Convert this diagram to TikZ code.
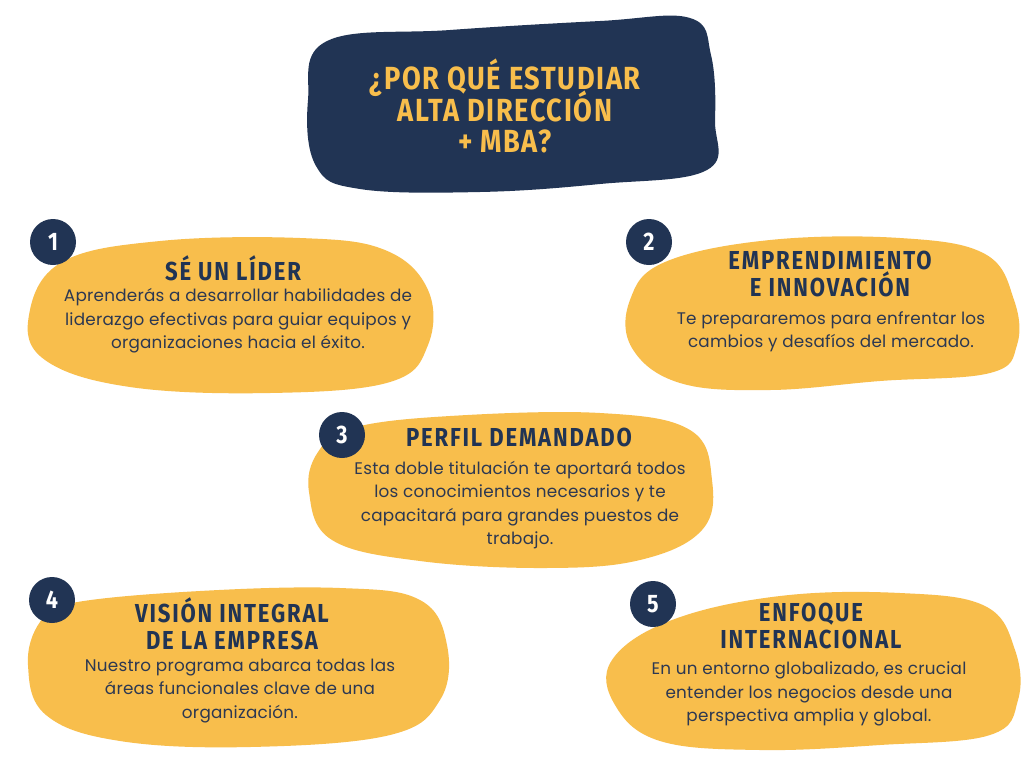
\documentclass[tikz,border=0pt]{standalone}
\usepackage{fontspec}
\setmainfont{Poppins}[LetterSpace=1.5]
\newfontfamily\headfont{Fira Sans}[FakeStretch=0.85,LetterSpace=7]
\newfontfamily\titlefont{Fira Sans}[FakeStretch=0.85,LetterSpace=5]
\newcommand\nolsk{\setlength{\lineskiplimit}{-100pt}}
\definecolor{navy}{HTML}{213454}
\definecolor{gold}{HTML}{F8BE4C}
\definecolor{bodytxt}{HTML}{2C3852}
\begin{document}
\begin{tikzpicture}[x=0.75pt,y=-0.75pt,
  blob/.style={fill=gold,draw=none},
  titleblob/.style={fill=navy,draw=none},
  numdot/.style={circle,fill=navy,minimum size=34.5pt,inner sep=0pt,text=white,font=\headfont\bfseries\fontsize{19}{19}\selectfont},
  headtxt/.style={text=navy,align=center,font=\headfont\bfseries\fontsize{19.5}{20}\selectfont\nolsk,inner sep=0pt},
  bodytext/.style={text=bodytxt,align=center,font=\fontsize{12.6}{17.6}\selectfont\nolsk,inner sep=0pt},
  titletxt/.style={text=gold,align=center,font=\titlefont\bfseries\fontsize{24}{23.6}\selectfont\nolsk,inner sep=0pt}]
\useasboundingbox[fill=white] (0,0) rectangle (1024,768);
% title blob
\fill[titleblob] plot[smooth cycle,tension=0.65] coordinates {(327,41) (450,30) (600,21) (690,18) (711,55) (715,120) (707,170) (600,184) (480,192) (360,189) (316,166) (308,100)};
\node[titletxt] (title) at (505,106) {¿POR QUÉ ESTUDIAR\\ALTA DIRECCIÓN\\+ MBA?};
% blob 1
\fill[blob] plot[smooth cycle,tension=0.65] coordinates {(62,262) (160,241) (300,238) (385,250) (428,290) (428,345) (390,382) (270,393) (130,387) (45,360) (29,315)};
% blob 2
\fill[blob] plot[smooth cycle,tension=0.65] coordinates {(665,262) (770,240) (900,238) (985,254) (1014,300) (1017,345) (990,373) (880,381) (770,390) (680,383) (632,348) (630,300)};
% blob 3
\fill[blob] plot[smooth cycle,tension=0.65] coordinates {(352,428) (450,416) (600,413) (690,430) (712,480) (702,530) (640,560) (545,568) (420,561) (332,540) (309,492) (318,452)};
% blob 4
\fill[blob] plot[smooth cycle,tension=0.65] coordinates {(72,603) (200,591) (340,588) (420,600) (447,645) (440,700) (390,735) (250,747) (120,741) (46,715) (28,665) (40,622)};
% blob 5
\fill[blob] plot[smooth cycle,tension=0.65] coordinates {(672,620) (780,596) (900,593) (985,606) (1015,650) (1018,700) (990,735) (880,745) (760,750) (660,741) (615,705) (612,660)};
% numbers
\node[numdot] (n1) at (53,242) {1};
\node[numdot] (n2) at (649,242) {2};
\node[numdot] (n3) at (342,435) {3};
\node[numdot] (n4) at (52,600) {4};
\node[numdot] (n5) at (653,604) {5};
% texts
\node[headtxt] (h1) at (233,268) {SÉ UN LÍDER};
\node[bodytext] (b1) at (238,321) {Aprenderás a desarrollar habilidades de\\liderazgo efectivas para guiar equipos y\\organizaciones hacia el éxito.};
\node[headtxt] (h2) at (830,274) {EMPRENDIMIENTO\\E INNOVACIÓN};
\node[bodytext] (b2) at (831,332) {Te prepararemos para enfrentar los\\cambios y desafíos del mercado.};
\node[headtxt] (h3) at (519,437) {PERFIL DEMANDADO};
\node[bodytext] (b3) at (520,505) {Esta doble titulación te aportará todos\\los conocimientos necesarios y te\\capacitará para grandes puestos de\\trabajo.};
\node[headtxt] (h4) at (232,624) {VISIÓN INTEGRAL\\DE LA EMPRESA};
\node[bodytext] (b4) at (240,691) {Nuestro programa abarca todas las\\áreas funcionales clave de una\\organización.};
\node[headtxt] (h5) at (811,626) {ENFOQUE\\INTERNACIONAL};
\node[bodytext] (b5) at (809,694) {En un entorno globalizado, es crucial\\entender los negocios desde una\\perspectiva amplia y global.};
\end{tikzpicture}
\end{document}
